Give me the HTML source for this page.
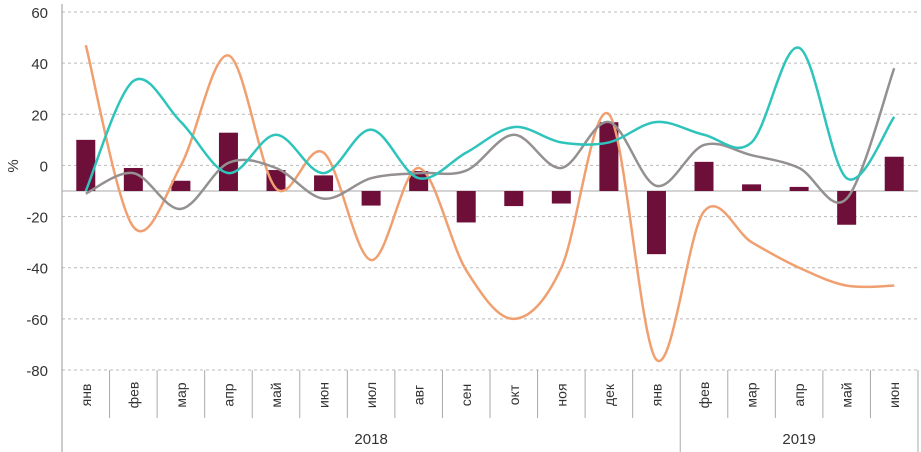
<!DOCTYPE html>
<html><head><meta charset="utf-8"><style>
body{margin:0;background:#fff;}
svg{display:block;font-family:"Liberation Sans","DejaVu Sans",sans-serif;}
</style></head><body>
<svg id="chart" width="921" height="452"></svg>
<script>
const months=['янв','фев','мар','апр','май','июн','июл','авг','сен','окт','ноя','дек','янв','фев','мар','апр','май','июн'];
const barValues=[10,-1,-6,12.8,-1.8,-3.9,-15.7,-2.2,-22.3,-15.9,-14.9,16.9,-34.7,1.4,-7.4,-8.4,-23.2,3.4];
const tealValues=[-10,33,17,-3,12,-3,14,-5,5,15,9,9,17,12,9,46,-5,19];
const orangeValues=[47,-24,0,43,-9,5,-37,-1,-41,-60,-40,20,-76,-18,-30,-40,-47,-47];
const grayValues=[-11,-3,-17,1,-1,-13,-5,-3,-2,12,-1,17,-8,8,4,-1,-13,38];
const yTicks=[60,40,20,0,-20,-40,-60,-80];
const years=[{label:'2018',from:0,to:13},{label:'2019',from:13,to:18}];

const NS='http://www.w3.org/2000/svg';
const svg=document.getElementById('chart');
const x0=62,x1=918,y60=12,yM80=370;
const yS=v=>y60+(60-v)*(yM80-y60)/140;
const bw=(x1-x0)/months.length;
const xC=i=>x0+bw*(i+0.5);
function mk(t,a){const e=document.createElementNS(NS,t);for(const k in a)e.setAttribute(k,a[k]);svg.appendChild(e);return e;}

yTicks.forEach(v=>{
  const g=mk('line',{x1:x0,x2:x1,y1:yS(v),y2:yS(v),stroke:'#bbb','stroke-width':1,'stroke-dasharray':'3,3'});
  
  
  const t=mk('text',{x:48,y:yS(v)+6,'text-anchor':'end','font-size':15,fill:'#333'});
  t.textContent=v;
  
  
});
const yt=mk('text',{x:18,y:166,'font-size':15,fill:'#333','text-anchor':'middle',transform:'rotate(-90 18 166)'});
yt.textContent='%';



const ax=mk('line',{x1:x0,x2:x0,y1:4,y2:452,stroke:'#999','stroke-width':1});


const base=yS(-10);
const cax=mk('line',{x1:x0,x2:x1,y1:base,y2:base,stroke:'#aaa','stroke-width':1});



barValues.forEach((v,i)=>{
  const yv=yS(v);
  const r=mk('rect',{x:xC(i)-9.5,width:19,y:Math.min(yv,base),height:Math.abs(base-yv),fill:'#6e0f3a'});
  
  
});

function smooth(vals){
  const p=vals.map((v,i)=>[xC(i),yS(v)]);
  let d='M'+p[0][0]+','+p[0][1];
  for(let i=0;i<p.length-1;i++){
    const a=p[i-1]||p[i],b=p[i],c=p[i+1],e=p[i+2]||c;
    const c1=[b[0]+(c[0]-a[0])/6,b[1]+(c[1]-a[1])/6];
    const c2=[c[0]-(e[0]-b[0])/6,c[1]-(e[1]-b[1])/6];
    d+=' C'+c1+' '+c2+' '+c;
  }
  return d;
}
[[orangeValues,'#f0a070','orange-line'],[grayValues,'#959090','gray-line'],[tealValues,'#2ec4bc','teal-line']].forEach(s=>{
  const p=mk('path',{d:smooth(s[0]),fill:'none',stroke:s[1],'stroke-width':2.5});
  
  
});

months.forEach((m,i)=>{
  const sx=x0+bw*(i+1);
  const l=mk('line',{x1:sx,x2:sx,y1:yM80,y2:i==12||i==17?452:418,stroke:'#aaa','stroke-width':1});
  
  
  const t=mk('text',{x:xC(i)+5,y:395,'font-size':14,fill:'#333','text-anchor':'middle',transform:'rotate(-90 '+(xC(i)+5)+' 395)'});
  t.textContent=m;
  
  
});
years.forEach(y=>{
  const cx=x0+bw*(y.from+y.to)/2;
  const t=mk('text',{x:cx,y:444,'font-size':15,fill:'#333','text-anchor':'middle'});
  t.textContent=y.label;
  
  
});
</script>
</body></html>
